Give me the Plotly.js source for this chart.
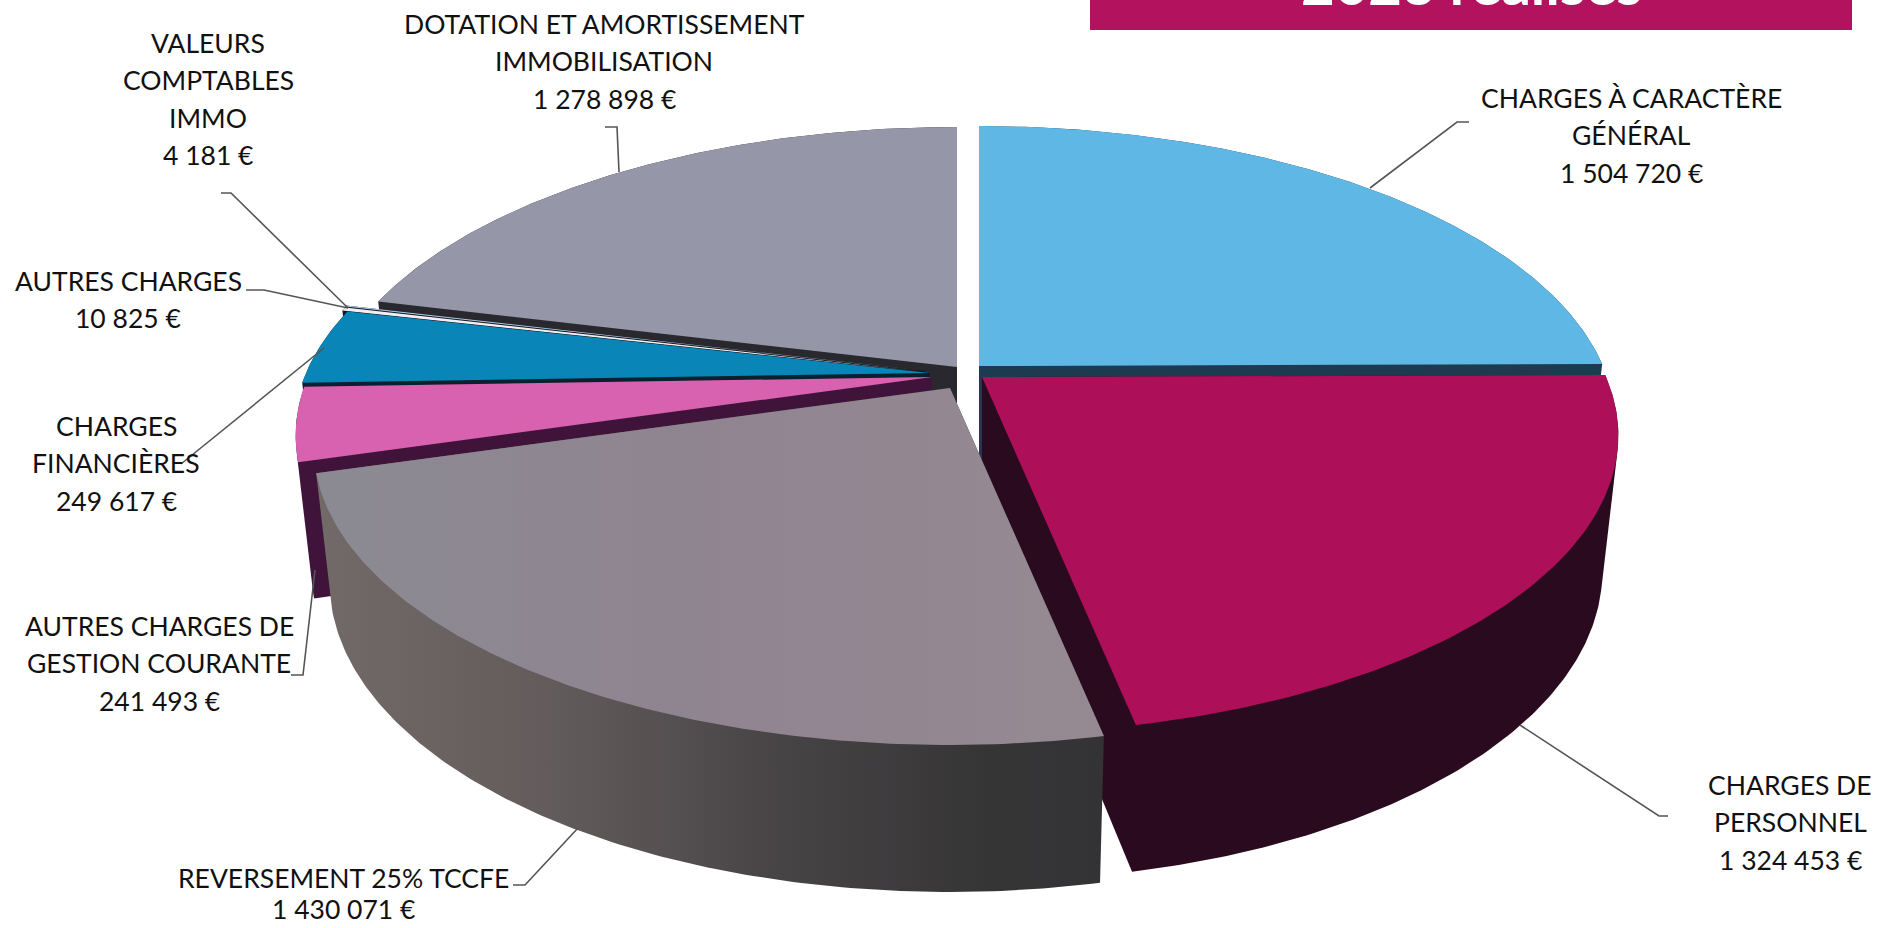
<!DOCTYPE html>
<html lang="fr">
<head>
<meta charset="utf-8">
<script src="https://cdn.plot.ly/plotly-3.0.1.min.js"></script>
<style>html,body{margin:0;padding:0;background:#fff;overflow:hidden}#chart{width:1883px;height:928px}</style>
</head>
<body>
<div id="chart"></div>
<script>
// ---- data, clockwise from 12 o'clock ----
const categories = [
  'CHARGES À CARACTÈRE GÉNÉRAL', 'CHARGES DE PERSONNEL', 'REVERSEMENT 25% TCCFE',
  'AUTRES CHARGES DE GESTION COURANTE', 'CHARGES FINANCIÈRES', 'AUTRES CHARGES',
  'VALEURS COMPTABLES IMMO', 'DOTATION ET AMORTISSEMENT IMMOBILISATION'
];
const values = [1504720, 1324453, 1430071, 241493, 249617, 10825, 4181, 1278898];
const labelLines = [
  ['CHARGES À CARACTÈRE', 'GÉNÉRAL'], ['CHARGES DE', 'PERSONNEL'], ['REVERSEMENT 25% TCCFE'],
  ['AUTRES CHARGES DE', 'GESTION COURANTE'], ['CHARGES', 'FINANCIÈRES'], ['AUTRES CHARGES'],
  ['VALEURS', 'COMPTABLES', 'IMMO'], ['DOTATION ET AMORTISSEMENT', 'IMMOBILISATION']
];
const bannerText = '2023 réalisés';

// ---- styles and placement ----
const topColors = ['#5fb7e6', '#ad0f59', null, '#d862af', '#0a85b7', '#f4eef3', '#a5cce8', '#9696a9'];
const wallColors = ['#1c3a50', '#2a0a1e', null, '#40143a', '#06222f', '#15161c', '#15161c', '#28282e'];
const apexX = [979, 982, 950, 932, 930, 925, 925, 957];
const apexY = [366, 377, 388, 377, 373, 372, 371, 367];
const drawOrder = [7, 6, 5, 4, 3, 0, 1, 2];
const labelCenterX = [1631, 1790, 343, 159, 116, 128, 208, 604];
const labelTopY = [98, 785, 878, 626, 426, 281, 43, 24];
const lineStep = 37.4;
const leaderPaths = [
  'M1370,188 L1457,122 L1469,122', 'M1520,725 L1659,816 L1668,816', 'M578,828 L525,885 L513,885',
  'M315,570 L303,675 L291,675', 'M324,348 L181,464', 'M348,308 L264,290 L246,290',
  'M348,308 L231,193 L221,193', 'M619,172 L617,127 L605,127'
];
const Rx = 624, Ry = 287, k = 0.196, xShrink = 0.975;

// ---- projection of the tilted disc ----
const total = values.reduce((a, b) => a + b, 0);
function project(i, t, deep) {
  const u = Math.sin(t), v = -Math.cos(t), d = 1 - k * v;
  const dx = Rx * u / d, dy = Ry * v / d;
  if (!deep) return [apexX[i] + dx, apexY[i] + dy];
  return [apexX[i] + dx * xShrink, apexY[i] + dy + 132 + 15 * v];
}
function angles(a0, a1) {
  const n = Math.max(2, Math.ceil((a1 - a0) * 90)), out = [];
  for (let j = 0; j <= n; j++) out.push(a0 + (a1 - a0) * j / n);
  return out;
}
function poly(points) { return { x: points.map(p => p[0]), y: points.map(p => p[1]) }; }
function hull(pts) {
  const s = pts.slice().sort((a, b) => a[0] - b[0] || a[1] - b[1]);
  const cross = (o, a, b) => (a[0] - o[0]) * (b[1] - o[1]) - (a[1] - o[1]) * (b[0] - o[0]);
  const lo = [], up = [];
  s.forEach(p => { while (lo.length > 1 && cross(lo[lo.length - 2], lo[lo.length - 1], p) <= 0) lo.pop(); lo.push(p); });
  s.slice().reverse().forEach(p => { while (up.length > 1 && cross(up[up.length - 2], up[up.length - 1], p) <= 0) up.pop(); up.push(p); });
  return lo.slice(0, -1).concat(up);
}

const traces = [];
let cum = 0;
const spans = values.map(val => {
  const a0 = cum / total * 2 * Math.PI; cum += val;
  return [a0, cum / total * 2 * Math.PI];
});
function fmt(n) { return String(n).replace(/\B(?=(\d{3})+$)/g, ' ') + ' €'; }

drawOrder.forEach(i => {
  const [a0, a1] = spans[i], ts = angles(a0, a1);
  const apexTop = [apexX[i], apexY[i]], apexBot = [apexX[i], apexY[i] + 132];
  const arcTop = ts.map(t => project(i, t, false));
  const arcBot = ts.map(t => project(i, t, true));
  const h = hull([apexTop, apexBot, ...arcTop, ...arcBot]);
  h.push(h[0]);
  const wall = Object.assign(poly(h), {
    type: 'scatter', mode: 'lines', fill: 'toself', line: { width: 0 },
    hoverinfo: 'skip', showlegend: false, name: categories[i] + ' (côté)'
  });
  if (i === 2) {
    wall.fillcolor = '#3a3839';
    wall.fillgradient = { type: 'horizontal', start: 320, stop: 1104,
      colorscale: [[0, '#726a68'], [0.3, '#625b5b'], [0.6, '#464345'], [0.85, '#363536'], [1, '#333335']] };
  } else { wall.fillcolor = wallColors[i]; }
  traces.push(wall);

  const top = Object.assign(poly([apexTop, ...arcTop, apexTop]), {
    type: 'scatter', mode: 'lines', fill: 'toself', line: { width: 0 },
    name: categories[i], text: fmt(values[i]), hoveron: 'fills', hoverinfo: 'name+text', showlegend: false
  });
  if (i === 2) {
    top.fillcolor = '#90858f';
    top.fillgradient = { type: 'horizontal', start: 320, stop: 1104,
      colorscale: [[0, '#8b8a93'], [0.5, '#8f8490'], [1, '#968a92']] };
  } else { top.fillcolor = topColors[i]; }
  traces.push(top);
});

// ---- labels ----
const annotations = [];
const labelFont = { family: 'Lato, "Open Sans", sans-serif', size: 26.5, color: '#111' };
categories.forEach((c, i) => {
  const lines = [...labelLines[i], fmt(values[i])];
  lines.forEach((txt, j) => annotations.push({
    xref: 'x', yref: 'y', x: labelCenterX[i], y: Math.max(19, Math.min(909, labelTopY[i] + j * lineStep)),
    text: txt, showarrow: false, xanchor: 'center', yanchor: 'middle', borderpad: 0, font: labelFont
  }));
});
annotations.push({
  xref: 'x', yref: 'y', x: 1471, y: 18, text: '<b>' + bannerText + '</b>', showarrow: false,
  xanchor: 'center', yanchor: 'bottom', borderpad: 0,
  font: { family: 'Lato, sans-serif', size: 58, color: '#ffffff' }
});

const shapes = [
  { type: 'rect', xref: 'x', yref: 'y', x0: 1090, x1: 1852, y0: 0, y1: 30,
    fillcolor: '#b3125f', line: { width: 0 }, layer: 'below' },
  ...leaderPaths.map(p => ({ type: 'path', xref: 'x', yref: 'y', path: p,
    line: { color: '#555555', width: 1.6 }, layer: 'above' }))
];

Plotly.newPlot('chart', traces, {
  width: 1883, height: 928,
  margin: { l: 0, r: 0, t: 0, b: 0, pad: 0 },
  paper_bgcolor: '#ffffff', plot_bgcolor: '#ffffff', showlegend: false,
  xaxis: { range: [0, 1883], visible: false, fixedrange: true },
  yaxis: { range: [928, 0], visible: false, fixedrange: true },
  annotations, shapes, hovermode: 'closest'
}, { displayModeBar: false, staticPlot: false });
</script>
</body>
</html>
